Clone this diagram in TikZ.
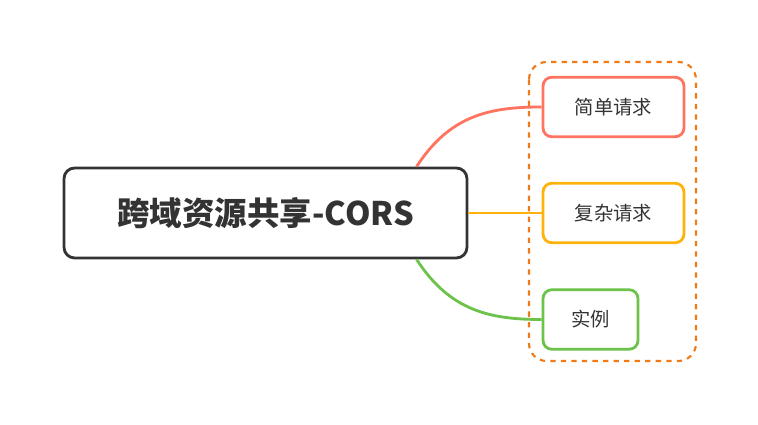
\documentclass[tikz,border=0pt]{standalone}
\usepackage{fontspec}
\setmainfont{Noto Sans CJK SC}
\usetikzlibrary{positioning}
\definecolor{redline}{HTML}{FF7460}
\definecolor{yellowline}{HTML}{FFB20A}
\definecolor{greenline}{HTML}{6CC24A}
\definecolor{orangedash}{HTML}{F07A18}
\definecolor{textgray}{HTML}{333333}
\tikzset{
  topic/.style={draw=textgray, line width=1.6pt, rounded corners=6pt, minimum width=8.06cm, minimum height=1.8cm, font=\fontsize{18.5}{22}\selectfont\bfseries, text=textgray},
  subtopic/.style={line width=1.6pt, rounded corners=5pt, minimum height=1.19cm, font=\fontsize{11}{13}\selectfont, text=textgray},
}
\begin{document}
\begin{tikzpicture}[x=0.02cm, y=-0.02cm]
        \useasboundingbox (0,0) rectangle (758,425);

        % Dashed frame
        \draw[orangedash, line width=1.2pt, dashed, rounded corners=10pt] (529,62) rectangle (696,361);

        % Central topic
        \node[topic] (cors) at (265.5,213) {跨域资源共享-CORS};

        % Subtopics
        \node[subtopic, draw=redline, minimum width=2.82cm] (simple) at (613.5,107) {简单请求};
        \node[subtopic, draw=yellowline, minimum width=2.82cm] (complex) at (613.5,213) {复杂请求};
        \node[subtopic, draw=greenline, minimum width=1.9cm] (example) at (590.5,319.5) {实例};

        % Branches
        \draw[redline, line width=1.6pt] ([xshift=86pt]cors.north) .. controls (450,115) and (490,107) .. (simple.west);
        \draw[yellowline, line width=1.6pt] (cors.east) -- (complex.west);
        \draw[greenline, line width=1.6pt] ([xshift=86pt]cors.south) .. controls (450,311) and (490,319.5) .. (example.west);
\end{tikzpicture}
\end{document}
